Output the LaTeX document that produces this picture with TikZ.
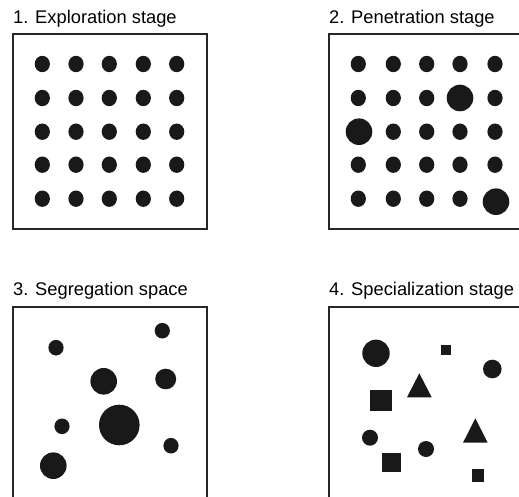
\documentclass[tikz,border=0pt]{standalone}
\usepackage{fontspec}
\setmainfont{Liberation Sans}
\begin{document}
\begin{tikzpicture}[x=1pt,y=-1pt,
  frame/.style={draw=black!85,line width=1.8pt},
  blob/.style={fill=black!90},
  title/.style={anchor=base west,inner sep=0pt,font=\fontsize{18.3}{21}\selectfont}]
\useasboundingbox (0,0) rectangle (519,497);
\clip (0,0) rectangle (519,497);
% titles
\node[title] (t1) at (13,23.5) {1. Exploration stage};
\node[title] (t2) at (329,23.5) {2. Penetration stage};
\node[title] (t3) at (13,295) {3. Segregation space};
\node[title] (t4) at (329,295) {4. Specialization stage};
% frames
\draw[frame] (13,34) rectangle (207,229);
\draw[frame] (530,34) -- (329,34) -- (329,229) -- (530,229);
\draw[frame] (13,510) -- (13,306.7) -- (207,306.7) -- (207,510);
\draw[frame] (530,306.7) -- (329,306.7) -- (329,510);
% panel 1
\foreach \x in {42.3,76,109.3,143.3,176.7}
  \foreach \y in {64,98,131.7,164.7,198.7}
    \fill[blob] (\x,\y) ellipse [x radius=7.6,y radius=8.2];
% panel 2
\foreach \x/\y in {358.3/64,393.3/64,426.7/64,460/64,495/64,
  358.3/98,393.3/98,426.7/98,495/98,
  393.3/131.7,426.7/131.7,460/131.7,495/131.7,
  358.3/164.7,393.3/164.7,426.7/164.7,460/164.7,495/164.7,
  358.3/198.7,393.3/198.7,426.7/198.7,460/198.7}
    \fill[blob] (\x,\y) ellipse [x radius=7.6,y radius=8.2];
\fill[blob] (460,98) circle [radius=13.3];
\fill[blob] (359,131.7) circle [radius=13.3];
\fill[blob] (496,201.7) circle [radius=13.3];
% panel 3
\fill[blob] (162.3,330.7) ellipse [x radius=7.6,y radius=7.8];
\fill[blob] (56,347.7) ellipse [x radius=7.6,y radius=7.8];
\fill[blob] (103.7,381.3) circle [radius=13.3];
\fill[blob] (165.7,379) ellipse [x radius=10.5,y radius=10.3];
\fill[blob] (119.3,425) circle [radius=20.3];
\fill[blob] (62,426.3) ellipse [x radius=7.6,y radius=7.8];
\fill[blob] (171,445.7) ellipse [x radius=7.6,y radius=7.8];
\fill[blob] (53.3,465.7) circle [radius=13.3];
% panel 4
\fill[blob] (376,353.3) circle [radius=13.7];
\fill[blob] (440.7,345.3) rectangle (450.7,355.3);
\fill[blob] (492.3,369) circle [radius=9.3];
\fill[blob] (419.3,373.3) -- (431.7,397.3) -- (407,397.3) -- cycle;
\fill[blob] (370.3,390) rectangle (391.7,411.3);
\fill[blob] (475.3,418.3) -- (487.7,442.7) -- (463,442.7) -- cycle;
\fill[blob] (370,437.7) circle [radius=8];
\fill[blob] (426,449) circle [radius=8];
\fill[blob] (381.5,453.2) rectangle (400.5,472.2);
\fill[blob] (471.7,469.4) rectangle (484.3,482);
\end{tikzpicture}
\end{document}
